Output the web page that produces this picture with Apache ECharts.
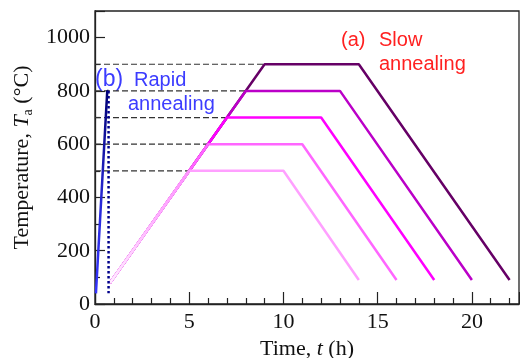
<!DOCTYPE html>
<html><head><meta charset="utf-8">
<script src="https://cdn.jsdelivr.net/npm/echarts@6/dist/echarts.min.js"></script>
<style>html,body{margin:0;padding:0;background:#fff}#c{width:520px;height:358px}</style>
</head><body><div id="c"></div>
<script>
// ---- data ----
const holdTemps  = [900, 800, 700, 600, 500];      // °C (drawn back to front)
const holdStart  = [9, 8, 7, 6, 5];                 // h
const holdEnd    = [14, 13, 12, 11, 10];            // h
const coolEnd    = [22, 20, 18, 16, 14];            // h
const rampStart  = [0.8, 80];                       // [h, °C]
const coolEndTemp = 90;                             // °C
const slowColors = ['#660066', '#bb00c8', '#ff00ff', '#ff66ff', '#ffa0ff'];
const rapidRamp  = [[0.05, 40], [0.65, 800], [0.72, 800]];
const rapidCool  = [[0.72, 800], [0.72, 40]];
const xTicks = [0, 5, 10, 15, 20];
const yTicks = [0, 200, 400, 600, 800, 1000];

const serif = '"Liberation Serif","Times New Roman",serif';
const sans = '"Liberation Sans",Arial,sans-serif';

const series = [];
// dashed guide lines
holdTemps.forEach((T, i) => {
  series.push({type: 'line', data: [[0, T], [holdStart[i], T]], symbol: 'none', silent: true,
    lineStyle: {color: '#333', width: 1.2, type: [6, 3]}});
});
// slow annealing profiles
holdTemps.forEach((T, i) => {
  series.push({type: 'line', data: [rampStart, [holdStart[i], T], [holdEnd[i], T], [coolEnd[i], coolEndTemp]],
    symbol: 'none', lineStyle: {color: slowColors[i], width: 2.5}});
});
// fading lower ramp
series.push({type: 'line', data: [rampStart, [holdStart[4], holdTemps[4]]], symbol: 'none',
  lineStyle: {width: 2.5, color: new echarts.graphic.LinearGradient(0, 1, 1, 0, [
    {offset: 0, color: '#fff0ff'}, {offset: 0.6, color: '#ffb0ff'}, {offset: 1, color: '#ff90ff'}])}});
// rapid annealing
series.push({type: 'line', data: rapidRamp, symbol: 'none',
  lineStyle: {width: 2.5, color: new echarts.graphic.LinearGradient(0, 1, 0, 0, [
    {offset: 0, color: '#3535ff'}, {offset: 0.45, color: '#2828d8'}, {offset: 1, color: '#000070'}])}});
series.push({type: 'line', data: rapidCool, symbol: 'none',
  lineStyle: {width: 2.5, color: '#00008b', type: [2.5, 2.5]}});

const chart = echarts.init(document.getElementById('c'), null, {renderer: 'canvas'});
chart.setOption({
  animation: false,
  grid: {left: 95, top: 11, right: 1, bottom: 54, outerBoundsMode: 'none', containLabel: false,
    show: true, borderColor: '#222', borderWidth: 1.3},
  xAxis: {
    type: 'value', min: 0, max: 22.5, interval: 5,
    name: 'Time, {i|t} (h)', nameLocation: 'middle', nameGap: 34,
    nameTextStyle: {fontFamily: serif, fontSize: 22, color: '#111', rich: {i: {fontFamily: serif, fontSize: 22, fontStyle: 'italic', color: '#111'}}},
    axisLine: {show: true, onZero: false, lineStyle: {color: '#222', width: 1.3}},
    axisTick: {show: true, inside: true, length: 12, lineStyle: {color: '#222', width: 1.2}},
    minorTick: {show: true, splitNumber: 5, length: 6, lineStyle: {color: '#222', width: 1.2}},
    splitLine: {show: false},
    axisLabel: {fontFamily: serif, fontSize: 22, color: '#111', margin: 7,
      formatter: v => xTicks.includes(v) ? String(v) : ''}
  },
  yAxis: {
    type: 'value', min: 0, max: 1100, interval: 200,
    name: 'Temperature, {i|T}{sub|a} (°C)', nameLocation: 'middle', nameGap: 53,
    nameTextStyle: {fontFamily: serif, fontSize: 22, color: '#111', rich: {
      i: {fontFamily: serif, fontSize: 22, fontStyle: 'italic', color: '#111'},
      sub: {fontFamily: serif, fontSize: 14, color: '#111', verticalAlign: 'bottom', padding: [12, 0, 0, 0]}}},
    axisLine: {show: true, onZero: false, lineStyle: {color: '#222', width: 1.3}},
    axisTick: {show: true, inside: true, length: 10, lineStyle: {color: '#222', width: 1.2}},
    minorTick: {show: true, splitNumber: 2, length: 5, lineStyle: {color: '#222', width: 1.2}},
    splitLine: {show: false},
    axisLabel: {fontFamily: serif, fontSize: 22, color: '#111', margin: 5,
      formatter: v => yTicks.includes(v) ? String(v) : ''}
  },
  graphic: [
    {type: 'text', left: 95, top: 68, style: {text: '(b)', font: '23px ' + sans, fill: '#3c3cff'}},
    {type: 'text', left: 134, top: 70, style: {text: 'Rapid', font: '20px ' + sans, fill: '#3c3cff'}},
    {type: 'text', left: 128, top: 94, style: {text: 'annealing', font: '20px ' + sans, fill: '#3c3cff'}},
    {type: 'text', left: 341, top: 30, style: {text: '(a)', font: '20px ' + sans, fill: '#ff2020'}},
    {type: 'text', left: 379, top: 30, style: {text: 'Slow', font: '20px ' + sans, fill: '#ff2020'}},
    {type: 'text', left: 379, top: 54, style: {text: 'annealing', font: '20px ' + sans, fill: '#ff2020'}}
  ],
  series: series
});
</script></body></html>
